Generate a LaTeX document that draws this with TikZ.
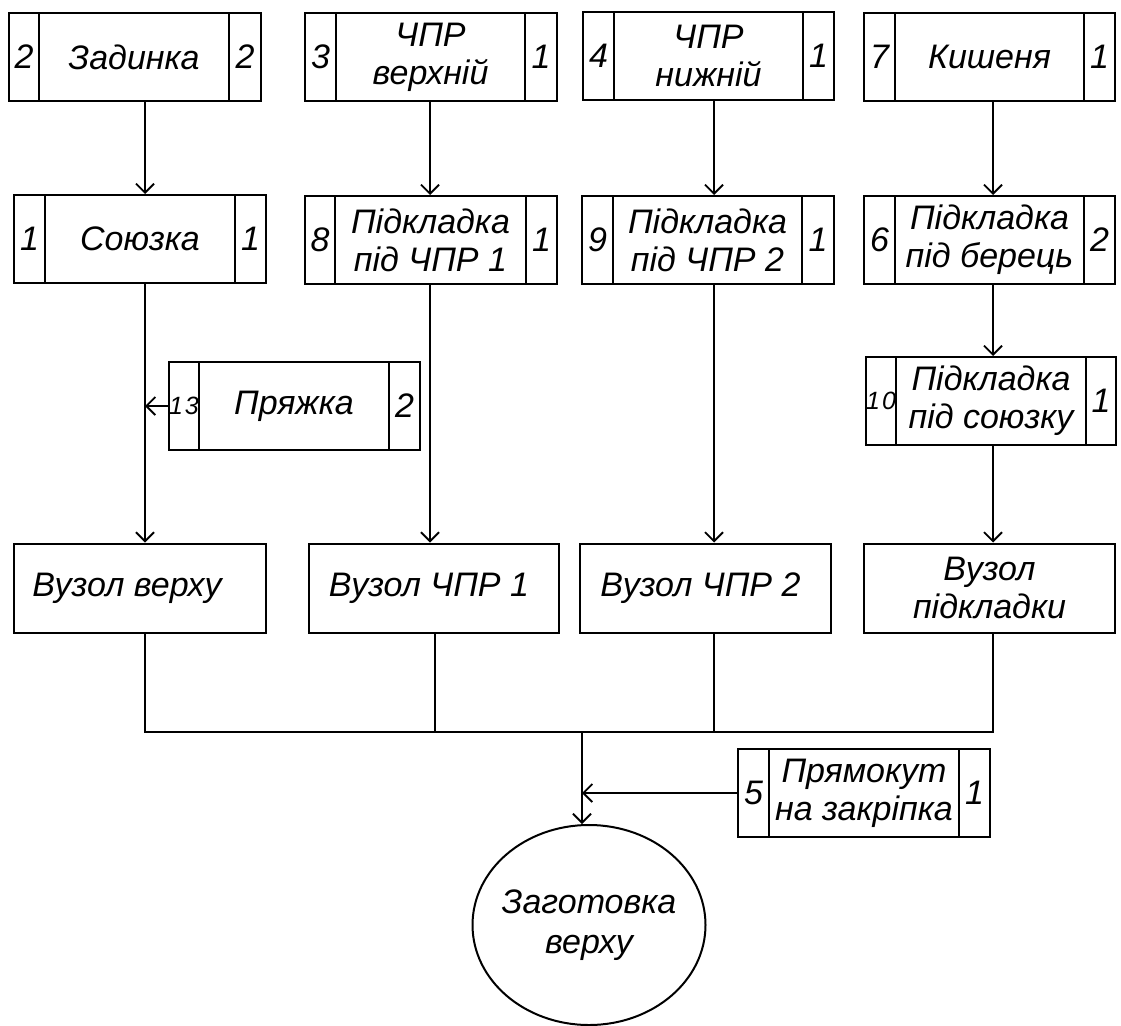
\documentclass[tikz,border=0pt]{standalone}
\usepackage{fontspec}
\setmainfont{Liberation Sans}
\usetikzlibrary{arrows.meta,calc,shapes.geometric}
\tikzset{
  cell/.style={draw, line width=2pt, inner sep=0pt, minimum height=88pt, align=center,
    font=\fontsize{34}{38}\selectfont\itshape},
  arr/.style={line width=1.8pt, -{Straight Barb[length=9pt,width=18pt,line width=1.8pt]}},
  wire/.style={line width=1.8pt},
}
\newcommand\smallnum[1]{{\fontsize{25}{27}\selectfont\addfontfeature{LetterSpace=8}#1}}
\newcommand\tribox[9]{%
  \node[cell, minimum width={#3-#2}] (#1-l) at ({(#2+#3)/2},#6) {#7};
  \node[cell, minimum width={#4-#3}] (#1) at ({(#3+#4)/2},#6) {#8};
  \node[cell, minimum width={#5-#4}] (#1-r) at ({(#4+#5)/2},#6) {#9};}
\begin{document}
\begin{tikzpicture}[x=1pt,y=-1pt]
\useasboundingbox[fill=white] (0,0) rectangle (1121,1025);
% column coordinates
\coordinate (c1) at (145,0);
\coordinate (c2) at (430,0);
\coordinate (c2b) at (435,0);
\coordinate (c3) at (714,0);
\coordinate (c4) at (993,0);
\coordinate (cm) at (582,0);
\coordinate (bus) at (0,732);
% row 1
\tribox{zad}{9}{39}{229}{261}{57}{2}{Задинка}{2}
\tribox{chv}{305}{336}{525}{557}{57}{3}{ЧПР\\верхній}{1}
\tribox{chn}{583}{614}{803}{834}{56}{4}{ЧПР\\нижній}{1}
\tribox{kis}{864}{895}{1084}{1115}{57}{7}{Кишеня}{1}
% row 2
\tribox{soy}{14}{45}{235}{266}{239}{1}{Союзка}{1}
\tribox{pd1}{305}{335}{526}{557}{240}{8}{Підкладка\\під ЧПР 1}{1}
\tribox{pd2}{582}{613}{802}{834}{240}{9}{Підкладка\\під ЧПР 2}{1}
\tribox{pdb}{864}{895}{1084}{1115}{240}{6}{Підкладка\\під берець}{2}
% row 3
\tribox{pry}{169}{199}{389}{420}{406}{\smallnum{13}}{Пряжка}{2}
\tribox{pds}{866}{896}{1086}{1116}{401}{\smallnum{10}}{Підкладка\\під союзку}{1}
% row 4
\node[cell, minimum width=252, minimum height=89] (vv) at (140,588) {Вузол верху\hspace*{26pt}};
\node[cell, minimum width=250, minimum height=89] (v1) at (434,588) {Вузол ЧПР 1\hspace*{10pt}};
\node[cell, minimum width=251, minimum height=89] (v2) at (705.5,588) {Вузол ЧПР 2\hspace*{10pt}};
\node[cell, minimum width=251, minimum height=89] (vp) at (989.5,588) {Вузол\\підкладки};
% fastener
\tribox{prm}{738}{769}{959}{990}{793}{5}{Прямокут\\на закріпка}{1}
% final
\node[draw, ellipse, line width=2pt, minimum width=233, minimum height=200, inner sep=-20pt, align=center,
  font=\fontsize{34}{40}\selectfont\itshape] (zag) at (589,925) {Заготовка\\верху};
% connectors
\draw[arr] (c1 |- zad.south) -- (c1 |- soy.north);
\draw[arr] (c1 |- soy.south) -- (c1 |- vv.north);
\draw[arr] (pry-l.west) -- (c1 |- pry-l.west);
\draw[arr] (c2 |- chv.south) -- (c2 |- pd1.north);
\draw[arr] (c2 |- pd1.south) -- (c2 |- v1.north);
\draw[arr] (c3 |- chn.south) -- (c3 |- pd2.north);
\draw[arr] (c3 |- pd2.south) -- (c3 |- v2.north);
\draw[arr] (c4 |- kis.south) -- (c4 |- pdb.north);
\draw[arr] (c4 |- pdb.south) -- (c4 |- pds.north);
\draw[arr] (c4 |- pds.south) -- (c4 |- vp.north);
\draw[wire] (c1 |- vv.south) -- (c1 |- bus) -- (c4 |- bus) -- (c4 |- vp.south);
\draw[wire] (c2b |- v1.south) -- (c2b |- bus);
\draw[wire] (c3 |- v2.south) -- (c3 |- bus);
\draw[arr] (cm |- bus) -- (cm |- zag.north);
\draw[arr] (prm-l.west) -- (cm |- prm-l.west);
\end{tikzpicture}
\end{document}
